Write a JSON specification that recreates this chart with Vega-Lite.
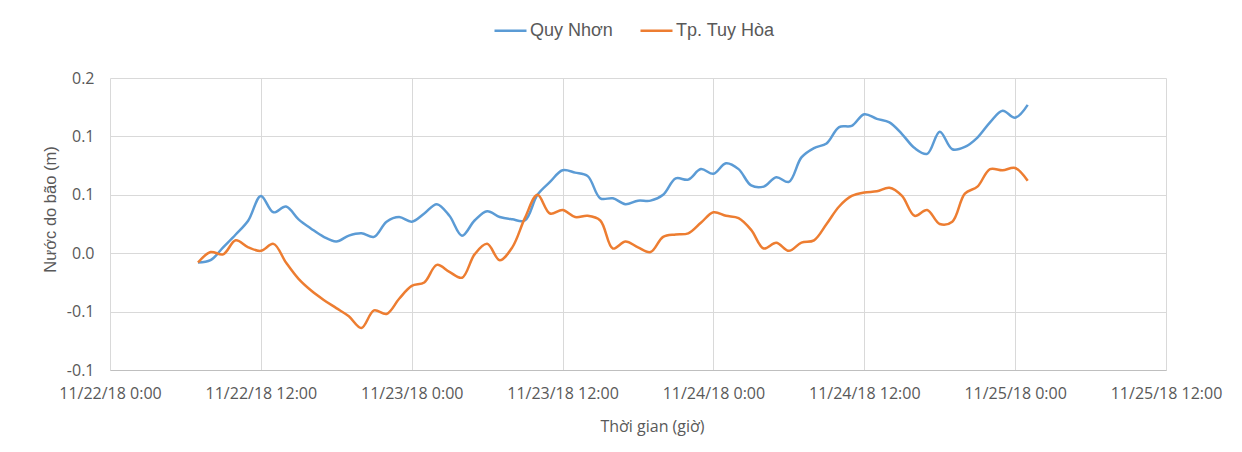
{
  "$schema": "https://vega.github.io/schema/vega-lite/v6.json",
  "autosize": {"type": "none"},
  "padding": {"left": 110, "top": 78, "right": 76, "bottom": 82},
  "width": 1056,
  "height": 292,
  "background": "white",
  "config": {"view": {"stroke": null}, "font": "Open Sans"},
  "data": {"values": [
    {"t": "2018-11-22T07:00", "qn": -0.008, "th": -0.008},
    {"t": "2018-11-22T08:00", "qn": -0.006, "th": 0.001},
    {"t": "2018-11-22T09:00", "qn": 0.005, "th": -0.001},
    {"t": "2018-11-22T10:00", "qn": 0.016, "th": 0.011},
    {"t": "2018-11-22T11:00", "qn": 0.028, "th": 0.005},
    {"t": "2018-11-22T12:00", "qn": 0.049, "th": 0.002},
    {"t": "2018-11-22T13:00", "qn": 0.035, "th": 0.008},
    {"t": "2018-11-22T14:00", "qn": 0.040, "th": -0.008},
    {"t": "2018-11-22T15:00", "qn": 0.029, "th": -0.022},
    {"t": "2018-11-22T16:00", "qn": 0.021, "th": -0.032},
    {"t": "2018-11-22T17:00", "qn": 0.014, "th": -0.040},
    {"t": "2018-11-22T18:00", "qn": 0.010, "th": -0.047},
    {"t": "2018-11-22T19:00", "qn": 0.015, "th": -0.054},
    {"t": "2018-11-22T20:00", "qn": 0.017, "th": -0.064},
    {"t": "2018-11-22T21:00", "qn": 0.014, "th": -0.049},
    {"t": "2018-11-22T22:00", "qn": 0.027, "th": -0.052},
    {"t": "2018-11-22T23:00", "qn": 0.031, "th": -0.039},
    {"t": "2018-11-23T00:00", "qn": 0.027, "th": -0.028},
    {"t": "2018-11-23T01:00", "qn": 0.034, "th": -0.025},
    {"t": "2018-11-23T02:00", "qn": 0.042, "th": -0.010},
    {"t": "2018-11-23T03:00", "qn": 0.032, "th": -0.016},
    {"t": "2018-11-23T04:00", "qn": 0.015, "th": -0.021},
    {"t": "2018-11-23T05:00", "qn": 0.028, "th": -0.001},
    {"t": "2018-11-23T06:00", "qn": 0.036, "th": 0.008},
    {"t": "2018-11-23T07:00", "qn": 0.031, "th": -0.006},
    {"t": "2018-11-23T08:00", "qn": 0.029, "th": 0.005},
    {"t": "2018-11-23T09:00", "qn": 0.028, "th": 0.030},
    {"t": "2018-11-23T10:00", "qn": 0.050, "th": 0.050},
    {"t": "2018-11-23T11:00", "qn": 0.061, "th": 0.034},
    {"t": "2018-11-23T12:00", "qn": 0.071, "th": 0.037},
    {"t": "2018-11-23T13:00", "qn": 0.069, "th": 0.031},
    {"t": "2018-11-23T14:00", "qn": 0.066, "th": 0.032},
    {"t": "2018-11-23T15:00", "qn": 0.047, "th": 0.028},
    {"t": "2018-11-23T16:00", "qn": 0.047, "th": 0.004},
    {"t": "2018-11-23T17:00", "qn": 0.042, "th": 0.010},
    {"t": "2018-11-23T18:00", "qn": 0.045, "th": 0.005},
    {"t": "2018-11-23T19:00", "qn": 0.045, "th": 0.001},
    {"t": "2018-11-23T20:00", "qn": 0.050, "th": 0.014},
    {"t": "2018-11-23T21:00", "qn": 0.064, "th": 0.016},
    {"t": "2018-11-23T22:00", "qn": 0.063, "th": 0.017},
    {"t": "2018-11-23T23:00", "qn": 0.072, "th": 0.026},
    {"t": "2018-11-24T00:00", "qn": 0.068, "th": 0.035},
    {"t": "2018-11-24T01:00", "qn": 0.077, "th": 0.032},
    {"t": "2018-11-24T02:00", "qn": 0.072, "th": 0.030},
    {"t": "2018-11-24T03:00", "qn": 0.058, "th": 0.020},
    {"t": "2018-11-24T04:00", "qn": 0.057, "th": 0.004},
    {"t": "2018-11-24T05:00", "qn": 0.065, "th": 0.009},
    {"t": "2018-11-24T06:00", "qn": 0.061, "th": 0.002},
    {"t": "2018-11-24T07:00", "qn": 0.082, "th": 0.009},
    {"t": "2018-11-24T08:00", "qn": 0.090, "th": 0.011},
    {"t": "2018-11-24T09:00", "qn": 0.094, "th": 0.025},
    {"t": "2018-11-24T10:00", "qn": 0.108, "th": 0.040},
    {"t": "2018-11-24T11:00", "qn": 0.109, "th": 0.049},
    {"t": "2018-11-24T12:00", "qn": 0.119, "th": 0.052},
    {"t": "2018-11-24T13:00", "qn": 0.115, "th": 0.053},
    {"t": "2018-11-24T14:00", "qn": 0.112, "th": 0.056},
    {"t": "2018-11-24T15:00", "qn": 0.102, "th": 0.049},
    {"t": "2018-11-24T16:00", "qn": 0.090, "th": 0.032},
    {"t": "2018-11-24T17:00", "qn": 0.085, "th": 0.037},
    {"t": "2018-11-24T18:00", "qn": 0.104, "th": 0.025},
    {"t": "2018-11-24T19:00", "qn": 0.089, "th": 0.027},
    {"t": "2018-11-24T20:00", "qn": 0.091, "th": 0.051},
    {"t": "2018-11-24T21:00", "qn": 0.099, "th": 0.057},
    {"t": "2018-11-24T22:00", "qn": 0.112, "th": 0.072},
    {"t": "2018-11-24T23:00", "qn": 0.122, "th": 0.071},
    {"t": "2018-11-25T00:00", "qn": 0.116, "th": 0.073},
    {"t": "2018-11-25T01:00", "qn": 0.127, "th": 0.062}
  ]},
  "transform": [{"fold": ["qn", "th"], "as": ["series", "value"]}],
  "mark": {"type": "line", "interpolate": "catmull-rom", "strokeWidth": 2.5},
  "encoding": {
    "x": {
      "field": "t",
      "type": "temporal",
      "scale": {"domain": [
        {"year": 2018, "month": 11, "date": 22, "hours": 0},
        {"year": 2018, "month": 11, "date": 25, "hours": 12}
      ]},
      "axis": {
        "values": [
          {"year": 2018, "month": 11, "date": 22, "hours": 0},
          {"year": 2018, "month": 11, "date": 22, "hours": 12},
          {"year": 2018, "month": 11, "date": 23, "hours": 0},
          {"year": 2018, "month": 11, "date": 23, "hours": 12},
          {"year": 2018, "month": 11, "date": 24, "hours": 0},
          {"year": 2018, "month": 11, "date": 24, "hours": 12},
          {"year": 2018, "month": 11, "date": 25, "hours": 0},
          {"year": 2018, "month": 11, "date": 25, "hours": 12}
        ],
        "format": "%m/%d/%y %-H:%M",
        "title": "Thời gian (giờ)",
        "titleFont": "Open Sans",
        "titleFontSize": 16,
        "titleFontWeight": "normal",
        "titleColor": "#595959",
        "titleX": 542,
        "titleY": 56,
        "titleAnchor": "middle",
        "titleAlign": "center",
        "titleBaseline": "middle",
        "labelFont": "Open Sans",
        "labelFontSize": 16,
        "labelColor": "#595959",
        "labelPadding": 15,
        "labelFlush": false,
        "labelOverlap": false,
        "ticks": false,
        "grid": true,
        "gridColor": "#d9d9d9",
        "gridWidth": 1,
        "domain": true,
        "domainColor": "#bfbfbf",
        "domainWidth": 1
      }
    },
    "y": {
      "field": "value",
      "type": "quantitative",
      "scale": {"domain": [-0.1, 0.15], "nice": false, "zero": false},
      "axis": {
        "values": [-0.1, -0.05, 0, 0.05, 0.1, 0.15],
        "labelExpr": "datum.value > 0.14 ? '0.2' : datum.value > 0.04 ? '0.1' : datum.value > -0.01 ? '0.0' : '-0.1'",
        "title": "Nước do bão (m)",
        "titleFont": "Liberation Sans",
        "titleFontSize": 16.5,
        "titleFontWeight": "normal",
        "titleColor": "#595959",
        "titleAngle": -90,
        "titleX": -60,
        "titleY": 131,
        "titleAlign": "center",
        "titleBaseline": "middle",
        "labelFont": "Open Sans",
        "labelFontSize": 16,
        "labelColor": "#595959",
        "labelPadding": 16,
        "ticks": false,
        "domain": false,
        "grid": true,
        "gridColor": "#d9d9d9",
        "gridWidth": 1
      }
    },
    "color": {
      "field": "series",
      "type": "nominal",
      "scale": {"domain": ["qn", "th"], "range": ["#5B9BD5", "#ED7D31"]},
      "legend": {
        "title": null,
        "orient": "none",
        "direction": "horizontal",
        "legendX": 383,
        "legendY": -65,
        "padding": 0,
        "symbolType": "stroke",
        "symbolSize": 1024,
        "symbolStrokeWidth": 2.5,
        "labelOffset": 2,
        "columnPadding": 22,
        "labelFont": "Liberation Sans",
        "labelFontSize": 18,
        "labelColor": "#595959",
        "labelLimit": 300,
        "labelExpr": "datum.label == 'qn' ? 'Quy Nhơn' : 'Tp. Tuy Hòa'"
      }
    }
  }
}
